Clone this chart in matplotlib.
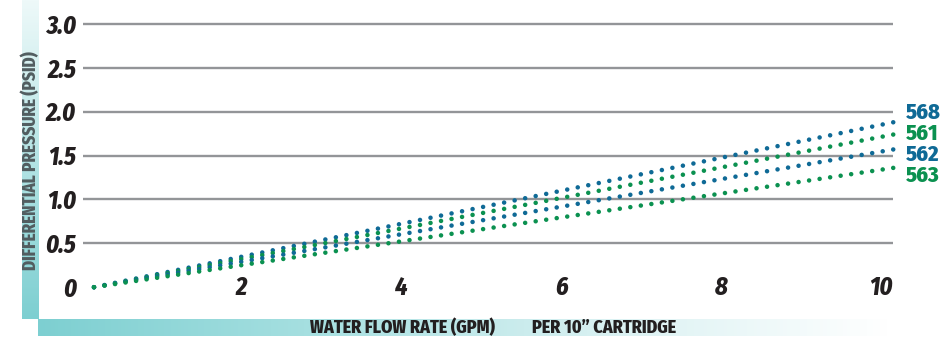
import numpy as np
import matplotlib
matplotlib.use('Agg')
import matplotlib.pyplot as plt
from matplotlib.colors import LinearSegmentedColormap

# Pressure drop: straight lines from 0 to the value at 10 GPM
series = ['568', '561', '562', '563']
psid_at_10gpm = [1.88, 1.74, 1.57, 1.36]
colors = ['#0f6a96', '#0b9150', '#0f6a96', '#0b9150']

x_ticks = [2, 4, 6, 8, 10]
y_ticks = [0, 0.5, 1.0, 1.5, 2.0, 2.5, 3.0]
y_ticklabels = ['0', '0.5', '1.0', '1.5', '2.0', '2.5', '3.0']

W, H, DPI = 944, 339, 100
FONT = ['Fira Sans Condensed', 'Roboto Condensed', 'DejaVu Sans']
DARK = '#231f20'
TEAL = '#7dcfd1'
WEIGHT = 'heavy'

fig = plt.figure(figsize=(W / DPI, H / DPI), dpi=DPI)

# background strips (pixel coordinates)
bg = fig.add_axes([0, 0, 1, 1])
bg.set_xlim(0, W)
bg.set_ylim(H, 0)
bg.axis('off')
vcmap = LinearSegmentedColormap.from_list('v', ['#eef9f9', '#b4e4e5', TEAL])
hcmap = LinearSegmentedColormap.from_list('h', [TEAL, '#a8e0e1', '#d9f1f2', '#ffffff'])
grad = np.linspace(0, 1, 256)
bg.imshow(grad[:, None], extent=(22, 39, 319, 0), aspect='auto', cmap=vcmap)
bg.imshow(grad[None, :], extent=(38, 890, 336, 319), aspect='auto', cmap=hcmap)
bg.text(31, 161, 'DIFFERENTIAL PRESSURE (PSID)', rotation=90, ha='center', va='center',
        fontsize=12.3, fontweight=WEIGHT, color='#525d60', family=FONT)
bg.text(310, 328, 'WATER FLOW RATE (GPM)', ha='left', va='center',
        fontsize=12.9, fontweight=WEIGHT, color=DARK, family=FONT)
bg.text(532, 328, 'PER 10\u201d CARTRIDGE', ha='left', va='center',
        fontsize=12.9, fontweight=WEIGHT, color=DARK, family=FONT)

# main axes: x 0..10 -> px 94..893, y 0..3 -> px 287..24
ax = fig.add_axes([94 / W, (H - 287.2) / H, (893.3 - 94) / W, (287.2 - 24) / H])
ax.patch.set_alpha(0)
ax.set_xlim(0, 10)
ax.set_ylim(0, 3)
for s in ax.spines.values():
    s.set_visible(False)

ax.hlines(y_ticks[1:], -0.14, 9.99, color='#939598', lw=1.7, clip_on=False, zorder=1)

ax.set_yticks(y_ticks)
ax.set_yticklabels(y_ticklabels)
ax.tick_params(axis='y', length=0, pad=13)
for lab in ax.get_yticklabels():
    lab.set_fontfamily(FONT)
    lab.set_fontsize(17.5)
    lab.set_fontweight(WEIGHT)
    lab.set_fontstyle('italic')
    lab.set_color(DARK)

ax.set_xticks([])
for xv in x_ticks:
    ax.annotate(str(xv), xy=(xv, 0), xytext=(-9, -0.5), textcoords='offset points',
                ha='center', va='center', fontsize=17.5, fontweight=WEIGHT,
                fontstyle='italic', color=DARK, family=FONT)

# dotted lines, dot spacing chosen so every series has 77 dots in aligned columns
lw = 3.3
n_gaps = 76
for name, end, c in zip(series, psid_at_10gpm, colors):
    p0, p1 = ax.transData.transform([(0, 0), (10, end)])
    length_pt = np.hypot(*(p1 - p0)) * 72 / DPI
    gap = length_pt / n_gaps / lw * 0.9999
    ax.plot([0, 10], [0, end], color=c, lw=lw, linestyle=(0, (1e-3, gap - 1e-3)),
            dash_capstyle='round', clip_on=False, zorder=3)

# series labels stacked beside the line ends
for i, (name, c) in enumerate(zip(series, colors)):
    ax.annotate(name, xy=(10, psid_at_10gpm[0]), xytext=(9.1, 6.5 - 15.1 * i),
                textcoords='offset points', ha='left', va='center',
                fontsize=16, fontweight=WEIGHT, color=c, family=FONT)

fig.savefig('out.png', dpi=DPI)
